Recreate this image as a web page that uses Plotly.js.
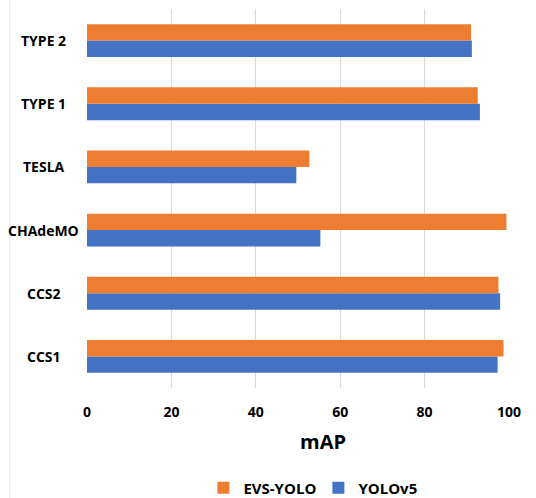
<!DOCTYPE html>
<html>
<head>
<meta charset="utf-8">
<script src="https://cdn.plot.ly/plotly-3.0.1.min.js"></script>
<style>
  html, body { margin: 0; padding: 0; background: #ffffff; }
  #chart { width: 536px; height: 498px; }
</style>
</head>
<body>
<div id="chart"></div>
<script>
// Connector types, bottom to top
const categories = ['CCS1', 'CCS2', 'CHAdeMO', 'TESLA', 'TYPE 1', 'TYPE 2'];
// mAP per connector type
const evsYolo = [98.7, 97.5, 99.4, 52.7, 92.6, 91.0];
const yoloV5  = [97.3, 97.9, 55.3, 49.6, 93.1, 91.2];
const xTicks = [0, 20, 40, 60, 80, 100];

const FONT = '"Open Sans", "Noto Sans", sans-serif';

const traces = [
  {
    type: 'bar', orientation: 'h', name: 'YOLOv5',
    y: categories, x: yoloV5,
    marker: { color: '#4472C4' },
    hoverinfo: 'x+name'
  },
  {
    type: 'bar', orientation: 'h', name: 'EVS-YOLO',
    y: categories, x: evsYolo,
    marker: { color: '#ED7D31' },
    hoverinfo: 'x+name'
  }
];

// Category labels, centred in the left margin
const labelAnnotations = categories.map(c => ({
  xref: 'paper', yref: 'y', x: -0.102, y: c,
  text: '<b>' + c + '</b>', showarrow: false,
  xanchor: 'center', yanchor: 'middle',
  font: { family: FONT, size: 14, color: '#000000' }
}));

const layout = {
  width: 536, height: 498,
  margin: { l: 87, r: 27, t: 9, b: 110, autoexpand: false },
  paper_bgcolor: '#ffffff', plot_bgcolor: '#ffffff',
  barmode: 'group', bargap: 0.48, bargroupgap: 0,
  showlegend: true,
  legend: {
    orientation: 'h', traceorder: 'reversed',
    xref: 'container', yref: 'container',
    x: 0.594, xanchor: 'center', y: 0.02, yanchor: 'middle',
    font: { family: FONT, size: 15, color: '#000000', weight: 'bold' },
    itemwidth: 30, entrywidth: 70, entrywidthmode: 'pixels'
  },
  xaxis: {
    range: [0, 100], tickvals: xTicks,
    ticktext: xTicks.map(v => '<b>' + v + '</b>'),
    showgrid: true, gridcolor: '#d9d9d9', gridwidth: 1,
    zeroline: false, showline: false, automargin: false,
    ticks: '', ticklabelstandoff: 14,
    tickfont: { family: FONT, size: 14, color: '#000000' },
    fixedrange: true
  },
  yaxis: {
    type: 'category', showticklabels: false, showgrid: false, automargin: false,
    zeroline: false, showline: false, ticks: '', fixedrange: true
  },
  annotations: labelAnnotations.concat([
    {
      xref: 'paper', yref: 'paper', x: 0.56, y: -0.14,
      text: '<b>mAP</b>', showarrow: false,
      xanchor: 'center', yanchor: 'middle',
      font: { family: FONT, size: 20, color: '#000000' }
    }
  ]),
  shapes: [
    {
      type: 'line', xref: 'paper', yref: 'paper',
      x0: -0.183, x1: -0.183, y0: -0.3, y1: 1.03,
      line: { color: '#e3e3e3', width: 1 }
    }
  ]
};

Plotly.newPlot('chart', traces, layout, { displayModeBar: false, staticPlot: true });
</script>
</body>
</html>
